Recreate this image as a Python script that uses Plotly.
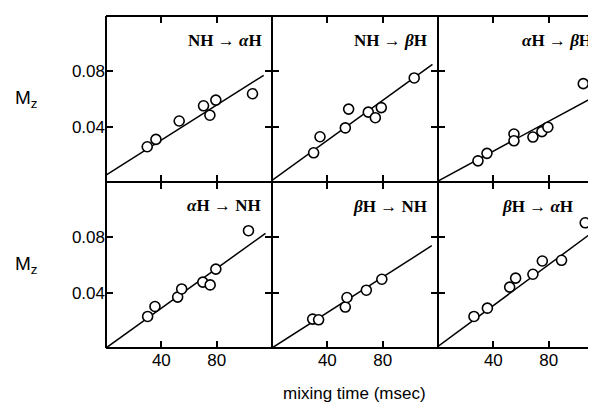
import plotly.graph_objects as go
from plotly.subplots import make_subplots

# ---- data ----
panel_from = ["NH", "NH", "αH", "αH", "βH", "βH"]
panel_to = ["αH", "βH", "βH", "NH", "NH", "αH"]

t1 = [29.8, 36.1, 52.9, 70.5, 75.1, 79.4, 105.9]
m1 = [0.0255, 0.0308, 0.0441, 0.0551, 0.0483, 0.0592, 0.0638]
t2 = [30.1, 34.7, 53.0, 55.4, 69.6, 74.7, 79.0, 102.8]
m2 = [0.0211, 0.0327, 0.0391, 0.0527, 0.0505, 0.0465, 0.0538, 0.0752]
t3 = [28.9, 35.4, 54.9, 54.9, 68.6, 75.1, 79.4, 105.0]
m3 = [0.0153, 0.0207, 0.0347, 0.0298, 0.0325, 0.0364, 0.0396, 0.0711]
t4 = [30.1, 35.4, 51.8, 54.7, 70.0, 75.3, 79.4, 103.0]
m4 = [0.0228, 0.0300, 0.0368, 0.0427, 0.0476, 0.0456, 0.0570, 0.0848]
t5 = [29.4, 33.7, 53.0, 54.2, 68.2, 79.4]
m5 = [0.0209, 0.0204, 0.0296, 0.0365, 0.0418, 0.0497]
t6 = [26.0, 35.7, 51.8, 56.1, 68.6, 75.4, 89.3, 106.4]
m6 = [0.0228, 0.0288, 0.0440, 0.0505, 0.0533, 0.0629, 0.0634, 0.0905]

# linear fits (intercept, slope, last x of the drawn fit)
fit_intercept = [0.0050, 0.0012, 0.0007, 0.0000, 0.0000, 0.0012]
fit_slope = [0.000633, 0.000722, 0.000540, 0.000719, 0.000640, 0.000738]
fit_xmax = [114.0, 116.0, 114.2, 115.3, 115.5, 113.9]

x_ticks = [40, 80]
y_ticks = [0.04, 0.08]
y_tick_text = ["0.04", "0.08"]

times = [t1, t2, t3, t4, t5, t6]
mz = [m1, m2, m3, m4, m5, m6]

# ---- figure ----
col_w = [166, 166, 158]
fig = make_subplots(rows=2, cols=3, horizontal_spacing=0, vertical_spacing=0,
                    column_widths=col_w)

for i in range(6):
    r, c = i // 3 + 1, i % 3 + 1
    xs = [0, fit_xmax[i]]
    ys = [fit_intercept[i] + fit_slope[i] * x for x in xs]
    fig.add_trace(go.Scatter(x=xs, y=ys, mode="lines",
                             line=dict(color="black", width=1.5),
                             showlegend=False, hoverinfo="skip"), row=r, col=c)
    fig.add_trace(go.Scatter(x=times[i], y=mz[i], mode="markers",
                             marker=dict(symbol="circle", size=10, color="white",
                                         line=dict(color="black", width=1.6)),
                             showlegend=False), row=r, col=c)

tick_font = dict(family="Liberation Sans, Arial, sans-serif", size=17, color="black")

for i in range(6):
    r, c = i // 3 + 1, i % 3 + 1
    xmax = 114.2 if c == 3 else 120
    fig.update_xaxes(row=r, col=c, range=[0, xmax], tickvals=x_ticks,
                     ticktext=[str(v) for v in x_ticks],
                     showticklabels=(r == 2), ticks="inside", ticklen=7,
                     tickwidth=1.5, tickcolor="black", showline=False,
                     mirror="ticks", showgrid=False, zeroline=False,
                     tickfont=tick_font)
    fig.update_yaxes(row=r, col=c, range=[0, 0.12], tickvals=y_ticks,
                     ticktext=y_tick_text, showticklabels=(c == 1),
                     ticks="inside", ticklen=7, tickwidth=1.5, tickcolor="black",
                     showline=False, mirror=("ticks" if c < 3 else False),
                     showgrid=False, zeroline=False, tickfont=tick_font)

# panel frame lines (shared edges drawn once)
frame = dict(color="black", width=2)
shapes = []
for yy in [0, 0.5, 1]:
    shapes.append(dict(type="line", xref="paper", yref="paper", x0=0, x1=1,
                       y0=yy, y1=yy, line=frame, layer="above"))
tot = sum(col_w)
for xx in [0, col_w[0] / tot, (col_w[0] + col_w[1]) / tot]:
    shapes.append(dict(type="line", xref="paper", yref="paper", x0=xx, x1=xx,
                       y0=0, y1=1, line=frame, layer="above"))

# panel labels
label_x = [0.952, 0.946, 0.985, 0.946, 0.946, 0.867]
label_y = [0.85, 0.85, 0.85, 0.86, 0.85, 0.85]
annotations = []
for i in range(6):
    def fmt(s):
        return s.replace("α", "<i>α</i>").replace("β", "<i>β</i>")
    txt = "<b>" + fmt(panel_from[i]) + " → " + fmt(panel_to[i]) + "</b>"
    n = "" if i == 0 else str(i + 1)
    annotations.append(dict(text=txt, xref=f"x{n} domain", yref=f"y{n} domain",
                            x=label_x[i], y=label_y[i], xanchor="right",
                            yanchor="middle", showarrow=False,
                            font=dict(family="Liberation Serif, Times New Roman, serif",
                                      size=17, color="black")))

for yy in [0.75, 0.25]:
    annotations.append(dict(text="M<sub>z</sub>", xref="paper", yref="paper",
                            x=-0.19, y=yy, xanchor="left", yanchor="middle",
                            showarrow=False,
                            font=dict(family="Liberation Sans, Arial, sans-serif",
                                      size=19, color="black")))

annotations.append(dict(text="mixing time (msec)", xref="paper", yref="paper",
                        x=0.508, y=-0.136, xanchor="center", yanchor="middle",
                        showarrow=False,
                        font=dict(family="Liberation Sans, Arial, sans-serif",
                                  size=17, color="black")))

# the page adds an 8 px body margin, so the figure is 8 px smaller each way
fig.update_layout(width=588, height=396, margin=dict(l=98, r=0, t=8, b=56),
                  plot_bgcolor="white", paper_bgcolor="white",
                  annotations=annotations, shapes=shapes, showlegend=False)

fig.write_html("out.html")
